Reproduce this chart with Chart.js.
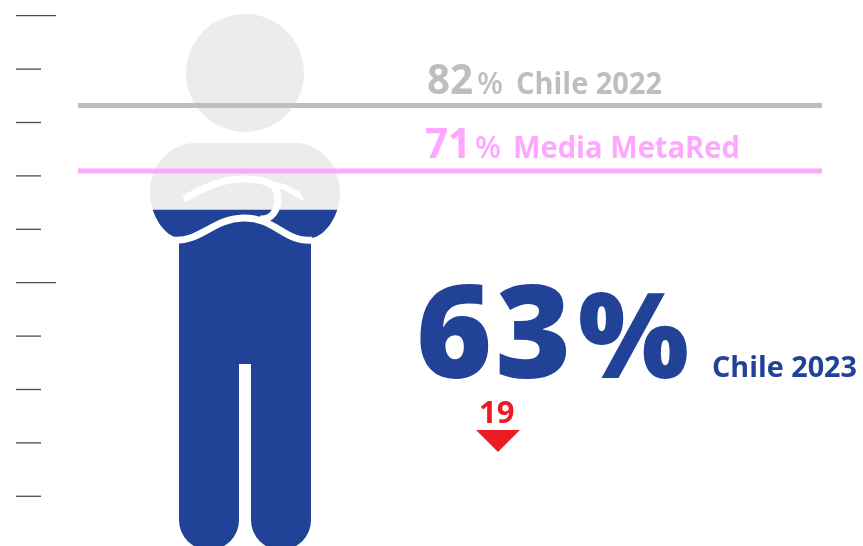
<!DOCTYPE html>
<html lang="es">
<head>
    <meta charset="UTF-8">
    <title>Chile 2023</title>
    <script src="https://cdn.jsdelivr.net/npm/chart.js"></script>
    <style>
        html, body { margin: 0; padding: 0; background: #fff; width: 863px; height: 546px; overflow: hidden; }
        canvas { display: block; }
    </style>
</head>
<body>
    <canvas id="myChart" width="863" height="560"></canvas>

    <script>
        // valores
        var porcentajes = [82, 71, 63];
        var etiquetas = ['Chile 2022', 'Media MetaRed', 'Chile 2023'];
        var diferencia = ['19'];
        // altura real de cada marca sobre la regla (0-100)
        var nivel2022 = [83.2, 83.2];
        var nivelMedia = [70.9, 70.9];
        var nivel2023 = [63.6];
        var xLineas = [78, 822];
        var xPersona = [245];

        var AZUL = '#214296', GRIS = '#bcbec0', ROSA = '#ffa6ff', ROJO = '#ed1c24', CUERPO = '#ececec';
        var FUENTE = '"Open Sans", sans-serif';

        function silueta(ctx) {
            ctx.beginPath();
            ctx.arc(245, 73, 59, 0, Math.PI * 2);
            ctx.closePath();
            ctx.moveTo(195, 143);
            ctx.bezierCurveTo(170, 143, 150, 165, 150, 193);
            ctx.bezierCurveTo(150, 215, 165, 237, 179, 238);
            ctx.lineTo(179, 520);
            ctx.arc(209, 520, 30, Math.PI, 0, true);
            ctx.lineTo(239, 364);
            ctx.lineTo(251, 364);
            ctx.lineTo(251, 520);
            ctx.arc(281, 520, 30, Math.PI, 0, true);
            ctx.lineTo(311, 238);
            ctx.bezierCurveTo(325, 237, 340, 215, 340, 193);
            ctx.bezierCurveTo(340, 165, 320, 143, 295, 143);
            ctx.closePath();
        }

        function brazos(ctx) {
            ctx.save();
            ctx.strokeStyle = '#fff';
            ctx.lineWidth = 7;
            ctx.lineCap = 'butt';
            ctx.beginPath();
            ctx.moveTo(172, 240);
            ctx.bezierCurveTo(200, 243, 212, 219, 243, 218);
            ctx.bezierCurveTo(275, 217, 285, 243, 312, 240);
            ctx.stroke();
            ctx.beginPath();
            ctx.moveTo(260, 219);
            ctx.bezierCurveTo(272, 220, 278, 210, 278, 198);
            ctx.bezierCurveTo(278, 186, 268, 179, 245, 179);
            ctx.bezierCurveTo(225, 178, 205, 187, 184, 199);
            ctx.stroke();
            ctx.beginPath();
            ctx.moveTo(272, 181);
            ctx.bezierCurveTo(283, 183, 292, 187, 300, 192);
            ctx.lineTo(305, 202);
            ctx.bezierCurveTo(295, 196, 285, 190, 276, 187);
            ctx.closePath();
            ctx.fillStyle = '#fff';
            ctx.fill();
            ctx.restore();
        }

        function texto(ctx, t, x, y, size, weight, color, ancho) {
            ctx.font = weight + ' ' + size + 'px ' + FUENTE;
            ctx.fillStyle = color;
            ctx.fillText(t, x, y, ancho);
        }

        var personaPlugin = {
            id: 'persona',
            beforeDatasetsDraw: function(chart) {
                var ctx = chart.ctx;
                ctx.save();
                silueta(ctx);
                ctx.fillStyle = CUERPO;
                ctx.fill();
                ctx.restore();
            },
            beforeDatasetDraw: function(chart, args) {
                if (args.index !== 2) return;
                chart.ctx.save();
                silueta(chart.ctx);
                chart.ctx.clip();
            },
            afterDatasetDraw: function(chart, args) {
                if (args.index !== 2) return;
                chart.ctx.restore();
                brazos(chart.ctx);
            },
            afterDraw: function(chart) {
                var ctx = chart.ctx;
                var y = chart.scales.y;
                ctx.save();
                // regla de la izquierda
                ctx.strokeStyle = '#4d4d4d';
                ctx.lineWidth = 1.3;
                y.ticks.forEach(function(t) {
                    if (t.value === 0) return;
                    var py = y.getPixelForValue(t.value);
                    ctx.beginPath();
                    ctx.moveTo(16, py);
                    ctx.lineTo(t.value % 50 === 0 ? 56 : 41, py);
                    ctx.stroke();
                });

                ctx.textBaseline = 'alphabetic';
                texto(ctx, String(porcentajes[0]), 427, 94, 42, 700, GRIS, 46);
                texto(ctx, '%', 477, 94, 30, 600, GRIS, 27);
                texto(ctx, etiquetas[0], 516, 94, 31, 700, GRIS, 146);

                texto(ctx, String(porcentajes[1]), 425, 158, 42, 700, ROSA, 46);
                texto(ctx, '%', 475, 158, 30, 600, ROSA, 27);
                texto(ctx, etiquetas[1], 513, 158, 31, 700, ROSA, 227);

                ctx.letterSpacing = '3px';
                texto(ctx, String(porcentajes[2]), 416, 378, 130, 800, AZUL);
                ctx.letterSpacing = '0px';
                texto(ctx, '%', 578, 378, 118, 800, AZUL, 111);
                texto(ctx, etiquetas[2], 712, 377, 29, 700, AZUL, 145);

                texto(ctx, diferencia[0], 479, 423, 31, 700, ROJO);
                ctx.fillStyle = ROJO;
                ctx.beginPath();
                ctx.moveTo(476, 430);
                ctx.lineTo(520, 430);
                ctx.lineTo(498, 452);
                ctx.closePath();
                ctx.fill();
                ctx.restore();
            }
        };

        var ctx = document.getElementById('myChart').getContext('2d');
        var myChart = new Chart(ctx, {
            type: 'bar',
            data: {
                datasets: [
                    {
                        type: 'line',
                        label: etiquetas[0],
                        data: xLineas.map(function(x, i) { return { x: x, y: nivel2022[i] }; }),
                        borderColor: GRIS,
                        borderWidth: 5,
                        pointRadius: 0,
                        clip: false,
                        order: 1
                    },
                    {
                        type: 'line',
                        label: etiquetas[1],
                        data: xLineas.map(function(x, i) { return { x: x, y: nivelMedia[i] }; }),
                        borderColor: ROSA,
                        borderWidth: 5,
                        pointRadius: 0,
                        clip: false,
                        order: 1
                    },
                    {
                        label: etiquetas[2],
                        data: xPersona.map(function(x, i) { return { x: x, y: nivel2023[i] }; }),
                        backgroundColor: AZUL,
                        barThickness: 200,
                        order: 2
                    }
                ]
            },
            options: {
                responsive: false,
                animation: false,
                layout: { padding: { left: 78, right: 41, top: 15.7, bottom: 10.3 } },
                plugins: { legend: { display: false }, tooltip: { enabled: false } },
                scales: {
                    x: { type: 'linear', min: 78, max: 822, offset: false, display: false },
                    y: { min: 0, max: 100, ticks: { stepSize: 10 }, display: false }
                }
            },
            plugins: [personaPlugin]
        });
    </script>
</body>
</html>
